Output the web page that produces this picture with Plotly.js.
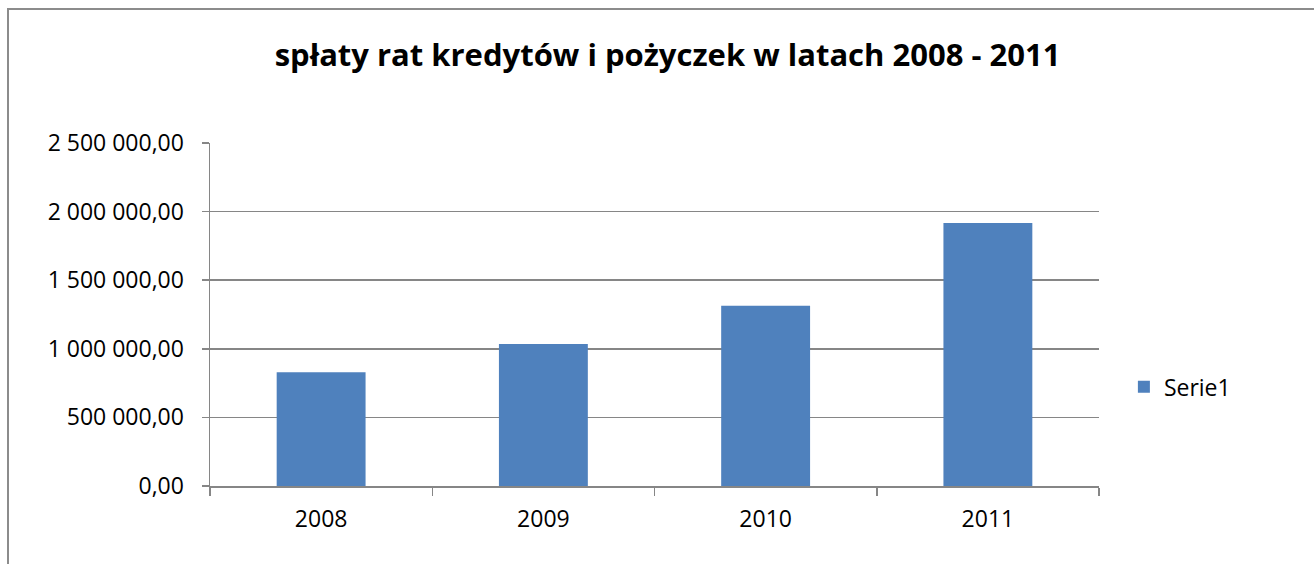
<!DOCTYPE html>
<html>
<head>
<meta charset="utf-8">
<script src="https://cdn.plot.ly/plotly-3.0.1.min.js"></script>
<style>
  html, body { margin: 0; padding: 0; background: #ffffff; overflow: hidden; }
  #frame { position: absolute; left: 7px; top: 8px; width: 1400px; height: 700px;
           border-left: 2px solid #8c8c8c; border-top: 2px solid #8c8c8c; }
  #chart { position: absolute; left: 0; top: 0; width: 1314px; height: 564px; }
</style>
</head>
<body>
<div id="frame"></div>
<div id="chart"></div>
<script>
var titleText = "spłaty rat kredytów i pożyczek w latach 2008 - 2011";
var seriesName = "Serie1";
var years = ["2008", "2009", "2010", "2011"];
var values = [829000, 1035000, 1314000, 1917000];
var yTicks = [0, 500000, 1000000, 1500000, 2000000, 2500000];

var fontFamily = "Open Sans, Lato, sans-serif";

var trace = {
  type: "bar",
  x: years,
  y: values,
  name: seriesName,
  marker: { color: "#4f81bd" },
  showlegend: true
};

var layout = {
  width: 1314,
  height: 564,
  paper_bgcolor: "rgba(0,0,0,0)",
  plot_bgcolor: "rgba(0,0,0,0)",
  separators: ", ",
  margin: { l: 210, r: 215, t: 143, b: 78, pad: 0 },
  bargap: 0.6,
  title: {
    text: "<b>" + titleText + "</b>",
    x: 0.508,
    xanchor: "center",
    y: 0.903,
    yref: "container",
    yanchor: "middle",
    font: { family: fontFamily, size: 31, color: "#000000" }
  },
  xaxis: {
    type: "category",
    tickson: "boundaries",
    ticks: "outside",
    ticklen: 8,
    tickcolor: "#868686",
    tickwidth: 1.5,
    showline: true,
    linecolor: "#868686",
    linewidth: 1.5,
    showgrid: false,
    ticklabelstandoff: 12,
    tickfont: { family: fontFamily, size: 23, color: "#000000" },
    fixedrange: true
  },
  yaxis: {
    range: [0, 2500000],
    tickvals: yTicks,
    tickformat: ",.2f",
    ticks: "outside",
    ticklen: 7,
    tickcolor: "#868686",
    tickwidth: 1.5,
    showline: true,
    linecolor: "#868686",
    linewidth: 1.5,
    showgrid: true,
    gridcolor: "#868686",
    gridwidth: 1.5,
    zeroline: false,
    ticklabelstandoff: 13,
    tickfont: { family: fontFamily, size: 23, color: "#000000" },
    fixedrange: true
  },
  legend: {
    x: 1.028,
    xanchor: "left",
    y: 0.289,
    yanchor: "middle",
    font: { family: fontFamily, size: 23, color: "#000000" },
    bgcolor: "rgba(0,0,0,0)"
  }
};

Plotly.newPlot("chart", [trace], layout, { staticPlot: true, displayModeBar: false });
</script>
</body>
</html>
